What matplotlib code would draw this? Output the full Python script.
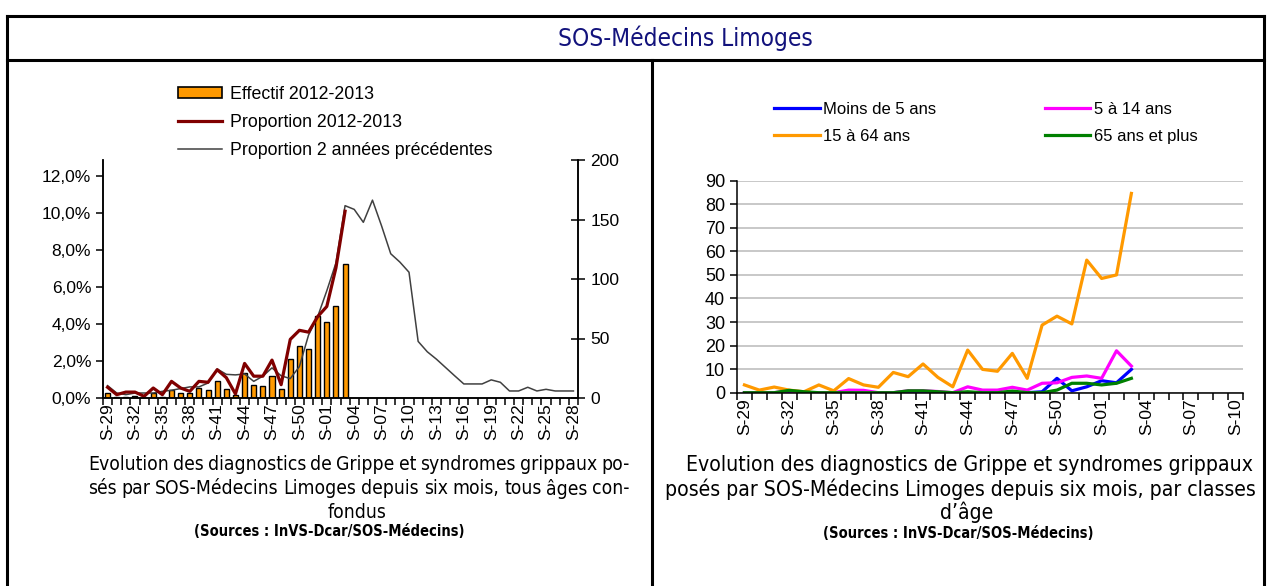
import matplotlib
matplotlib.use("Agg")
import matplotlib.pyplot as plt
from matplotlib.lines import Line2D
from matplotlib.patches import Patch
from matplotlib import font_manager as fm

W, H = 1271, 586
plt.rcParams["font.family"] = ["Liberation Sans", "DejaVu Sans"]

# condensed face for the title/captions if one is installed
_cond = fm.findfont(fm.FontProperties(family="DejaVu Sans", stretch="condensed"))
HAS_COND = "Condensed" in _cond
COND = dict(family=["DejaVu Sans"], fontstretch="condensed") if HAS_COND \
    else dict(family=["Liberation Sans", "DejaVu Sans"])
K = 1.0 if HAS_COND else 0.88  # size factor when no condensed face

# week labels
weeks_left = [f"S-{w:02d}" for w in list(range(29, 53)) + list(range(1, 29))]
weeks_right = [f"S-{w:02d}" for w in list(range(29, 53)) + list(range(1, 11))]

# left chart: all ages (S-29 .. S-03 for current season)
effectif_2012 = [4.5, 0.5, 1.0, 2.0, 0.0, 3.9, 0.5, 6.7, 3.9, 3.9, 8.1, 6.7, 14.6,
                 7.3, 2.5, 20.8, 11.0, 10.1, 18.8, 7.3, 32.6, 44.1, 41.3, 68.5,
                 63.5, 77.0, 112.5]
prop_2012 = [0.58, 0.18, 0.32, 0.32, 0.09, 0.54, 0.18, 0.90, 0.54, 0.36, 0.90,
             0.85, 1.53, 1.10, 0.22, 1.87, 1.18, 1.18, 2.05, 0.72, 3.17, 3.66,
             3.56, 4.40, 4.95, 7.04, 10.1]
prop_prev = [0.67, 0.27, 0.18, 0.27, 0.27, 0.27, 0.36, 0.42, 0.51, 0.60, 0.60,
             0.81, 1.57, 1.28, 1.25, 1.30, 0.90, 1.18, 1.63, 1.20, 1.05, 1.70,
             3.40, 4.40, 5.80, 7.30, 10.4, 10.2, 9.5, 10.7, 9.3, 7.8, 7.35, 6.8,
             3.06, 2.5, 2.1, 1.65, 1.2, 0.76, 0.76, 0.76, 0.98, 0.85, 0.38, 0.38,
             0.58, 0.38, 0.47, 0.38, 0.38, 0.38]

# right chart: by age class
moins_5 = [0, 0, 0, 0, 0, 0, 0, 0, 0, 0, 0, 0.4, 0, 0, 0, 0, 0, 0, 0, 0,
           0.4, 6.1, 0.8, 2.5, 5.1, 4.2, 9.9]
age_5_14 = [0, 0, 0, 0.8, 0, 0, 0, 1.1, 1.0, 0, 0, 0.8, 0.8, 0.5, 0, 2.5, 1.1,
            1.1, 2.3, 1.1, 4.0, 4.2, 6.5, 7.1, 6.1, 17.8, 11.3]
age_15_64 = [3.3, 1.1, 2.4, 1.1, 0.4, 3.3, 0.8, 6.0, 3.3, 2.3, 8.6, 6.8, 12.2,
             6.5, 2.5, 18.1, 9.9, 9.1, 16.7, 6.1, 28.7, 32.5, 29.2, 56.3, 48.5,
             50.0, 84.6]
age_65 = [0, 0, 0, 1.0, 0.4, 0, 0, 0, 0, 0, 0, 0.8, 0.8, 0.4, 0, 0.4, 0, 0, 0.7,
          0, 0, 1.1, 4.0, 4.0, 3.3, 4.0, 6.1]


def fx(x):
    return x / W


def fy(y):
    return 1 - y / H


def week_ticks(ax, labels):
    n = len(labels)
    ax.set_xlim(-0.5, n - 0.5)
    ax.set_xticks(range(0, n, 3))
    ax.set_xticklabels(labels[::3], rotation=90, fontsize=12.5)
    ax.set_xticks([i - 0.5 for i in range(n + 1)], minor=True)
    ax.tick_params(axis="x", which="major", length=0, pad=4)
    ax.tick_params(axis="x", which="minor", length=5, width=1.1, direction="out")


fig = plt.figure(figsize=(W / 100, H / 100), dpi=100)


def justified(x0, x1, y, text, **kw):
    """Spread the words of one caption line between x0 and x1 (pixels)."""
    r = fig.canvas.get_renderer()
    ts = [fig.text(0, fy(y), w, ha="left", va="center", **kw) for w in text.split()]
    widths = [t.get_window_extent(r).width for t in ts]
    gap = (x1 - x0 - sum(widths)) / (len(ts) - 1)
    x = x0
    for t, w in zip(ts, widths):
        t.set_x(fx(x))
        x += w + gap


# frame lines
def fline(x0, y0, x1, y1):
    fig.add_artist(Line2D([fx(x0), fx(x1)], [fy(y0), fy(y1)], color="black",
                          lw=2.2, transform=fig.transFigure))

fline(7, 16, 1264, 16)
fline(7, 60, 1264, 60)
fline(7, 16, 7, 586)
fline(1264, 16, 1264, 586)
fline(652, 60, 652, 586)

fig.text(fx(685), fy(38), "SOS-Médecins Limoges", color="#12127C",
         fontsize=17.5 * K, ha="center", va="center", **COND)

# ---- left chart ----
axb = fig.add_axes([fx(103), fy(398), 475 / W, 238 / H])
axl = axb.twinx()
axb.yaxis.tick_right()
axl.yaxis.tick_left()

x_cur = list(range(len(effectif_2012)))
axb.bar(x_cur, effectif_2012, width=0.55, color="#FF9900", edgecolor="black",
        linewidth=1.0)
axb.set_ylim(0, 200)
axb.set_yticks(range(0, 201, 50))
axb.tick_params(axis="y", direction="inout", length=10, width=1.1, labelsize=12.5,
                pad=4)

axl.plot(range(len(prop_prev)), prop_prev, color="#404040", lw=1.1)
axl.plot(x_cur, prop_2012, color="#800000", lw=2.3)
axl.set_ylim(0, 12.87)
axl.set_yticks(range(0, 13, 2))
axl.set_yticklabels([f"{v:.1f}%".replace(".", ",") for v in range(0, 13, 2)])
axl.tick_params(axis="y", direction="out", length=5, width=1.1, labelsize=12.5)

week_ticks(axb, weeks_left)
for ax in (axb, axl):
    ax.spines["top"].set_visible(False)
    for s in ("left", "right", "bottom"):
        ax.spines[s].set_linewidth(1.1)

handles = [Patch(facecolor="#FF9900", edgecolor="black", linewidth=1.2),
           Line2D([], [], color="#800000", lw=2.3),
           Line2D([], [], color="#404040", lw=1.1)]
labels = ["Effectif 2012-2013", "Proportion 2012-2013",
          "Proportion 2 années précédentes"]
fig.legend(handles, labels, loc="upper left", bbox_to_anchor=(fx(178), fy(86)),
           frameon=False, fontsize=12.8, handlelength=2.5, handleheight=0.6,
           handletextpad=0.4, labelspacing=0.62, borderpad=0, borderaxespad=0)

# ---- right chart ----
axr = fig.add_axes([fx(737), fy(392.7), 506 / W, 212 / H])
x_age = list(range(len(age_15_64)))
l1, = axr.plot(x_age, moins_5, color="#0000FF", lw=2.3)
l2, = axr.plot(x_age, age_5_14, color="#FF00FF", lw=2.3)
l3, = axr.plot(x_age, age_15_64, color="#FF9900", lw=2.3)
l4, = axr.plot(x_age, age_65, color="#008000", lw=2.3)
axr.set_ylim(0, 90)
axr.set_yticks(range(0, 91, 10))
axr.yaxis.grid(True, color="#BFBFBF", lw=1.2)
axr.set_axisbelow(True)
axr.tick_params(axis="y", direction="out", length=5, width=1.1, labelsize=13)
week_ticks(axr, weeks_right)
for s in ("top", "right"):
    axr.spines[s].set_visible(False)
for s in ("left", "bottom"):
    axr.spines[s].set_linewidth(1.1)

fig.legend([l1, l3, l2, l4],
           ["Moins de 5 ans", "15 à 64 ans", "5 à 14 ans", "65 ans et plus"],
           ncol=2, loc="upper left", bbox_to_anchor=(fx(774), fy(102)),
           frameon=False, fontsize=12, handlelength=2.75, handletextpad=0.2,
           labelspacing=0.74, columnspacing=6.5, borderpad=0, borderaxespad=0)

# ---- captions ----
cap_l = dict(fontsize=13.9 * K, **COND)
justified(88, 630, 465, "Evolution des diagnostics de Grippe et syndromes grippaux  po-", **cap_l)
justified(88, 630, 489, "sés par SOS-Médecins Limoges depuis six mois, tous âges con-", **cap_l)
fig.text(fx(357), fy(512), "fondus", ha="center", va="center", **cap_l)

cap_r = dict(fontsize=15.2 * K, ha="center", va="center", **COND)
fig.text(fx(969), fy(465), "Evolution des diagnostics de Grippe et syndromes grippaux", **cap_r)
fig.text(fx(960), fy(489), "posés par SOS-Médecins Limoges depuis six mois, par classes", **cap_r)
fig.text(fx(967), fy(512), "d’âge", **cap_r)

src = dict(fontsize=10.5 * K, fontweight="bold", ha="center", va="center", **COND)
fig.text(fx(329), fy(531), "(Sources : InVS-Dcar/SOS-Médecins)", **src)
fig.text(fx(958), fy(533), "(Sources : InVS-Dcar/SOS-Médecins)", **src)

fig.savefig("out.png", dpi=100)
